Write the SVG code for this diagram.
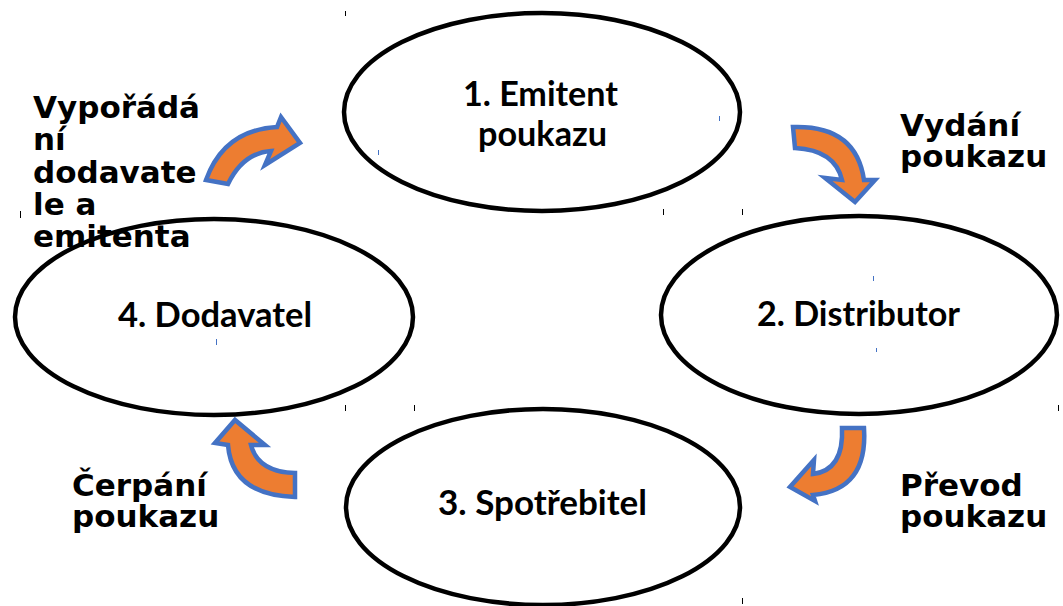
<svg xmlns="http://www.w3.org/2000/svg" width="1063" height="606" viewBox="0 0 1063 606">
<style>
.node ellipse{fill:none;stroke:#000;stroke-width:4.5}
.nt{font-family:Lato,"Open Sans","Liberation Sans",sans-serif;font-weight:700;font-size:34px;fill:#000}
.lbl{font-family:"DejaVu Sans","Liberation Sans",sans-serif;font-weight:700;font-size:31px;fill:#000}
.arr{fill:#ED7D31;stroke:#4472C4;stroke-width:4.5;stroke-linejoin:miter}
.tk{stroke:#000;stroke-width:1}
.tb{stroke:#4472C4;stroke-width:1}
</style>
<rect width="1063" height="606" fill="#fff"/>
<g id="ticks">
<line class="tk" x1="345.5" y1="11" x2="345.5" y2="16"/>
<line class="tk" x1="20.5" y1="211" x2="20.5" y2="218"/>
<line class="tk" x1="663.5" y1="209" x2="663.5" y2="215"/>
<line class="tk" x1="742.5" y1="209" x2="742.5" y2="215"/>
<line class="tk" x1="345.5" y1="405" x2="345.5" y2="411"/>
<line class="tk" x1="414.5" y1="405" x2="414.5" y2="411"/>
<line class="tk" x1="1058.5" y1="405" x2="1058.5" y2="411"/>
<line class="tk" x1="742.5" y1="598" x2="742.5" y2="604"/>
<line class="tb" x1="719.5" y1="116" x2="719.5" y2="121"/>
<line class="tb" x1="378.5" y1="150" x2="378.5" y2="155"/>
<line class="tb" x1="873.5" y1="276" x2="873.5" y2="281"/>
<line class="tb" x1="876.5" y1="348" x2="876.5" y2="352"/>
<line class="tb" x1="216.5" y1="339" x2="216.5" y2="345"/>
</g>
<g id="connectors">
<path class="arr" d="M206 180 Q224 130 277 127 L281 117 L300 143 L265 165 L271 151 Q243 153 228 184 Z"/>
<path class="arr" d="M793 127 Q856 125 864 180 L875 180 L855 202 L825 178 L842 180 Q835 150 795 148 Z"/>
<path class="arr" d="M842 428 L864 428 Q868 490 813 495 L815 501 L790 487 L814 460 L813 474 Q844 470 842 428 Z"/>
<path class="arr" d="M295 497 Q232 495 228 445 L215 443 L235 420 L265 445 L251 445 Q258 472 295 473 Z"/>
</g>
<g id="n1" class="node">
<ellipse cx="542" cy="112" rx="198" ry="99"/>
<text class="nt" x="463" y="106" textLength="155" lengthAdjust="spacingAndGlyphs">1. Emitent</text>
<text class="nt" x="478" y="146" textLength="129" lengthAdjust="spacingAndGlyphs">poukazu</text>
</g>
<g id="n2" class="node">
<ellipse cx="859" cy="315" rx="198" ry="99"/>
<text class="nt" x="757" y="326" textLength="203" lengthAdjust="spacingAndGlyphs">2. Distributor</text>
</g>
<g id="n3" class="node">
<ellipse cx="543" cy="507" rx="197" ry="98"/>
<text class="nt" x="438" y="515" textLength="209" lengthAdjust="spacingAndGlyphs">3. Spotřebitel</text>
</g>
<g id="n4" class="node">
<ellipse cx="214" cy="317" rx="199" ry="98"/>
<text class="nt" x="118" y="327" textLength="194" lengthAdjust="spacingAndGlyphs">4. Dodavatel</text>
</g>
<g id="labels">
<text class="lbl" x="33" y="118">Vypořádá</text>
<text class="lbl" x="33" y="150">ní</text>
<text class="lbl" x="33" y="183">dodavate</text>
<text class="lbl" x="33" y="215">le a</text>
<text class="lbl" x="33" y="247">emitenta</text>
<text class="lbl" x="900" y="136">Vydání</text>
<text class="lbl" x="900" y="167">poukazu</text>
<text class="lbl" x="900" y="496">Převod</text>
<text class="lbl" x="900" y="527">poukazu</text>
<text class="lbl" x="72" y="496">Čerpání</text>
<text class="lbl" x="72" y="527">poukazu</text>
</g>
</svg>
